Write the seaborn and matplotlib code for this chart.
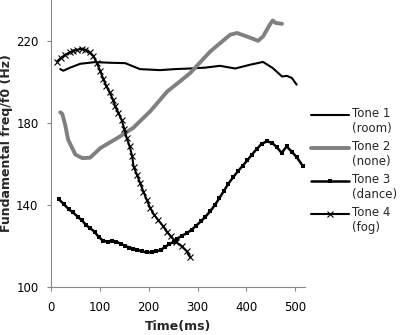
import matplotlib
matplotlib.use("Agg")
import matplotlib.pyplot as plt
import seaborn as sns
from matplotlib.lines import Line2D
from matplotlib.legend_handler import HandlerLine2D

# ---- data ----
tone1_x = [19, 25, 39, 60, 90, 121, 152, 182, 223, 254, 285, 315, 346, 377, 407, 434, 454, 473, 483, 493, 503]
tone1_y = [206.3, 205.5, 207.0, 208.9, 209.7, 209.4, 209.2, 206.3, 205.8, 206.3, 206.6, 207.0, 207.9, 206.6, 208.4, 209.8, 206.8, 202.7, 203.0, 202.0, 198.7]

tone2_x = [19, 23, 29, 35, 50, 64, 80, 101, 136, 168, 203, 238, 264, 285, 326, 367, 381, 401, 424, 434, 448, 454, 460, 473]
tone2_y = [185.2, 184.5, 179.2, 171.9, 164.6, 162.9, 163.1, 167.8, 172.7, 177.6, 185.7, 195.4, 200.3, 204.4, 214.9, 223.1, 223.9, 222.2, 220.1, 222.2, 228.0, 230.0, 228.8, 228.4]

tone3_x = [15.6, 25.8, 36, 45, 54.4, 63.3, 72.2, 80.3, 89.1, 97.4, 106.3, 115.7, 124.7, 133.5, 143.1, 151.9,
           160.7, 168.8, 177, 186, 196.2, 206.5, 215.2, 224.9, 233.6, 242.4, 252, 258.5, 267.7, 278, 288.2,
           297, 306.6, 315.4, 325.6, 335.9, 344.6, 354.3, 363, 373.3, 383.5, 392.5, 401.9, 410.9, 421.1,
           431.3, 441.5, 451.8, 462, 472.2, 482.4, 492.6, 502.9, 515.1]
tone3_y = [142.9, 140.6, 138.0, 136.4, 134.4, 132.5, 130.2, 128.6, 127.1, 124.4, 122.7, 122.1, 122.6, 122.2, 121.1, 120.1,
           119.3, 118.8, 118.2, 117.4, 116.9, 116.9, 117.4, 118.2, 119.5, 121.1, 122.1, 123.6, 125.0, 126.3, 128.0,
           129.9, 132.0, 134.1, 136.9, 140.1, 143.4, 147.0, 150.4, 153.7, 156.7, 159.2, 161.8, 164.5, 167.3,
           169.9, 171.0, 170.5, 168.3, 165.4, 168.6, 166.1, 163.4, 159.2]

tone4_x = [12, 20, 29, 38, 46, 54, 63, 70, 79, 87, 94, 101, 107, 113, 120, 127, 131, 138, 145, 150, 155, 161,
           166, 169, 176, 182.5, 189, 196, 203, 211, 220, 229, 237, 245, 255, 268, 278, 285]
tone4_y = [210.0, 211.7, 213.3, 214.4, 215.3, 215.8, 216.1, 215.8, 214.4, 212.5, 209.3, 205.2, 201.5, 198.2, 194.9,
           191.4, 188.4, 184.9, 181.3, 177.1, 172.7, 168.6, 164.0, 158.8, 154.8, 150.7, 146.6, 142.6, 138.5,
           135.3, 132.5, 129.9, 127.1, 124.7, 122.2, 119.8, 117.4, 114.6]

labels = ["Tone 1\n(room)", "Tone 2\n(none)", "Tone 3\n(dance)", "Tone 4\n(fog)"]
x_ticks = [0, 100, 200, 300, 400, 500]
y_ticks = [100, 140, 180, 220]

sns.set_theme(style="white")
plt.rcParams["font.family"] = ["DejaVu Sans"]

fig = plt.figure(figsize=(4.0, 3.35), dpi=100)
ax = fig.add_axes([0.1275, 0.143, 0.635, 0.857])

sns.lineplot(x=tone1_x, y=tone1_y, ax=ax, sort=False, color="black", lw=1.5, label=labels[0])
sns.lineplot(x=tone2_x, y=tone2_y, ax=ax, sort=False, color="#808080", lw=2.8, label=labels[1])
sns.lineplot(x=tone3_x, y=tone3_y, ax=ax, sort=False, color="black", lw=1.8, marker="s",
             markersize=3.2, markeredgewidth=0, label=labels[2])
sns.lineplot(x=tone4_x, y=tone4_y, ax=ax, sort=False, color="black", lw=1.5, marker="x",
             markersize=5, markeredgewidth=0.8, markeredgecolor="black", label=labels[3])

ax.set_xlim(0, 520)
ax.set_ylim(100, 240)
ax.set_xticks(x_ticks)
ax.set_yticks(y_ticks)
ax.tick_params(axis="both", labelsize=8.5, labelcolor="black", color="#888888", length=3, width=0.8,
               direction="out", bottom=True, left=True)
ax.tick_params(axis="x", pad=7)
ax.tick_params(axis="y", pad=6)
for s in ["top", "right"]:
    ax.spines[s].set_visible(False)
for s in ["left", "bottom"]:
    ax.spines[s].set_color("#888888")
    ax.spines[s].set_linewidth(0.8)

ax.set_xlabel("Time(ms)", fontsize=9, fontweight="bold", labelpad=4)
ax.set_ylabel("Fundamental freq/f0 (Hz)", fontsize=9, fontweight="bold", labelpad=2)


class TopHandler(HandlerLine2D):
    """Place the legend sample level with the first text line."""
    def __init__(self, shift, **kw):
        super().__init__(**kw)
        self.shift = shift

    def create_artists(self, legend, orig_handle, xdescent, ydescent, width, height, fontsize, trans):
        return super().create_artists(legend, orig_handle, xdescent, ydescent - 2 * self.shift,
                                      width, height, fontsize, trans)


handles, lbls = ax.get_legend_handles_labels()
ax.legend_.remove()
fig.legend(handles, lbls, loc="upper left", bbox_to_anchor=(0.778, 0.68), frameon=False,
           fontsize=8.5, handlelength=3.2, handletextpad=0.25, labelspacing=0.42,
           borderaxespad=0, borderpad=0, handler_map={Line2D: TopHandler(5.3)})

fig.savefig("out.png", dpi=100)
